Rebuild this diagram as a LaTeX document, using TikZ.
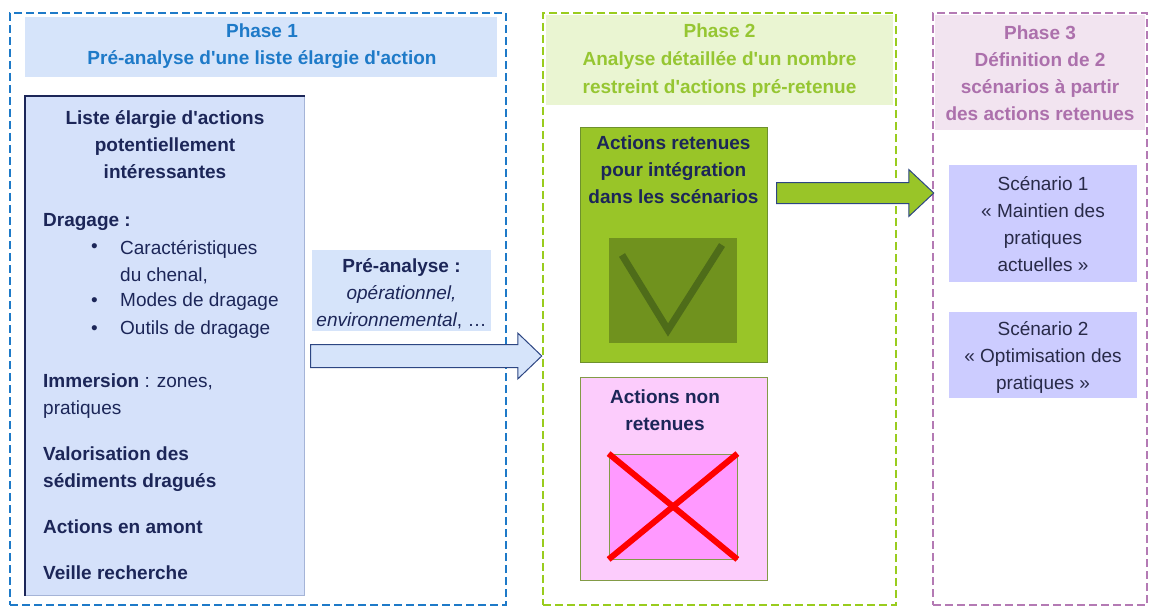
\documentclass[tikz,border=0pt]{standalone}
\usepackage{fontspec}
\setmainfont{Liberation Sans}[Ligatures=TeXOff]
\usetikzlibrary{calc}
\definecolor{navy}{RGB}{28,38,88}
\definecolor{p1blue}{RGB}{30,122,200}
\definecolor{h1fill}{RGB}{214,228,250}
\definecolor{listfill}{RGB}{213,225,250}
\definecolor{listedge}{RGB}{165,180,215}
\definecolor{p2green}{RGB}{153,204,30}
\definecolor{p2text}{RGB}{150,198,50}
\definecolor{h2fill}{RGB}{234,245,210}
\definecolor{gbox}{RGB}{153,197,40}
\definecolor{gedge}{RGB}{110,145,45}
\definecolor{gdark}{RGB}{112,146,30}
\definecolor{vmark}{RGB}{78,108,25}
\definecolor{pbox}{RGB}{252,204,252}
\definecolor{pinner}{RGB}{255,153,255}
\definecolor{pedge}{RGB}{130,155,70}
\definecolor{p3mauve}{RGB}{180,122,180}
\definecolor{p3text}{RGB}{172,112,172}
\definecolor{h3fill}{RGB}{242,228,240}
\definecolor{scfill}{RGB}{204,204,255}
\definecolor{sctext}{RGB}{40,42,72}
\definecolor{arrowedge}{RGB}{45,70,130}
\begin{document}
\begin{tikzpicture}[x=1pt,y=-1pt,
  phase/.style={draw, line width=2.5pt, dash pattern=on 8pt off 4pt, inner sep=0pt},
  fillbox/.style={inner sep=0pt},
  txt/.style={inner sep=0pt, align=center, font=\fontsize{19}{27}\selectfont},
  btxt/.style={inner sep=0pt, align=center, font=\fontsize{19}{27}\selectfont\bfseries},
  ltxt/.style={inner sep=0pt, align=left, anchor=west, font=\fontsize{19}{27}\selectfont, text=navy},
  blt/.style={inner sep=0pt, anchor=west, font=\fontsize{19}{27}\selectfont, text=navy},
  barrow/.style={fill=h1fill, draw=arrowedge, line width=1pt, line join=miter},
  garrow/.style={fill=gbox, draw=arrowedge, line width=1pt, line join=miter}
]
\useasboundingbox (0,0) rectangle (1150,607);

% ---------- Phase 1 ----------
\node[phase, draw=p1blue, minimum width=496, minimum height=592] (ph1) at (258,309) {};
\node[fillbox, fill=h1fill, minimum width=472, minimum height=60] (h1) at (261,47) {};
\node[btxt, text=p1blue] (h1t) at (262,46.5) {Phase 1\\Pré-analyse d'une liste élargie d'action};

\node[fillbox, fill=listfill, draw=listedge, line width=1pt, minimum width=279, minimum height=498] (list) at (164.5,346) {};
\draw[navy, line width=2pt] (list.south west) -- (list.north west) -- (list.north east);

\node[btxt, text=navy] (ltitle) at (165,144.5) {Liste élargie d'actions\\potentiellement\\intéressantes};
\node[blt, font=\fontsize{19}{27}\selectfont\bfseries] (drag) at (43,222) {Dragage :};
\node[blt] (bu1) at (91,248) {•};
\node[ltxt] (it1) at (120,262) {Caractéristiques\\du chenal,};
\node[blt] (bu2) at (91,302) {•};
\node[blt] (it2) at (120,302) {Modes de dragage};
\node[blt] (bu3) at (91,330) {•};
\node[blt] (it3) at (120,330) {Outils de dragage};
\node[ltxt] (imm) at (43,396.5) {\textbf{Immersion} : zones,\\pratiques};
\node[ltxt, font=\fontsize{19}{27}\selectfont\bfseries] (val) at (43,469) {Valorisation des\\sédiments dragués};
\node[blt, font=\fontsize{19}{27}\selectfont\bfseries] (amont) at (43,527) {Actions en amont};
\node[blt, font=\fontsize{19}{27}\selectfont\bfseries] (veille) at (43,573) {Veille recherche};

\node[fillbox, fill=h1fill, minimum width=179, minimum height=81] (pre) at (401.5,290.5) {};
\node[txt, text=navy] (pret) at (401.5,294) {\textbf{Pré-analyse :}\\\textit{opérationnel,}\\\textit{environnemental}, …};

% ---------- Phase 2 ----------
\node[phase, draw=p2green, minimum width=353, minimum height=592] (ph2) at (719.5,309) {};
\node[fillbox, fill=h2fill, minimum width=347, minimum height=90] (h2) at (719.5,60) {};
\node[btxt, text=p2text, font=\fontsize{19}{28}\selectfont\bfseries] (h2t) at (719.5,61) {Phase 2\\Analyse détaillée d'un nombre\\restreint d'actions pré-retenue};

\node[fillbox, fill=gbox, draw=gedge, line width=1pt, minimum width=187, minimum height=235] (keep) at (673.5,244.5) {};
\node[btxt, text=navy] (keept) at (673.5,169.5) {Actions retenues\\pour intégration\\dans les scénarios};
\node[fillbox, fill=gdark, minimum width=128, minimum height=105] (keepsq) at (673,290.5) {};
\draw[vmark, line width=7pt] (622,255) -- (668,330) -- (722,245);

\node[fillbox, fill=pbox, draw=pedge, line width=1pt, minimum width=187, minimum height=203] (drop) at (673.5,478.5) {};
\node[btxt, text=navy] (dropt) at (665,410) {Actions non\\retenues};
\node[fillbox, fill=pinner, draw=pedge, line width=0.8pt, minimum width=128, minimum height=105] (dropsq) at (673,506.5) {};
\draw[red, line width=6pt] (dropsq.north west) -- (dropsq.south east);
\draw[red, line width=6pt] (dropsq.north east) -- (dropsq.south west);

% ---------- Phase 3 ----------
\node[phase, draw=p3mauve, minimum width=214, minimum height=592] (ph3) at (1040,309) {};
\node[fillbox, fill=h3fill, minimum width=210, minimum height=115] (h3) at (1040,72.5) {};
\node[btxt, text=p3text] (h3t) at (1040,73) {Phase 3\\Définition de 2\\scénarios à partir\\des actions retenues};

\node[fillbox, fill=scfill, minimum width=188, minimum height=117] (sc1) at (1043,223.5) {};
\node[txt, text=sctext] (sc1t) at (1043,224.5) {Scénario 1\\« Maintien des\\pratiques\\actuelles »};
\node[fillbox, fill=scfill, minimum width=188, minimum height=86] (sc2) at (1043,355) {};
\node[txt, text=sctext] (sc2t) at (1043,357) {Scénario 2\\« Optimisation des\\pratiques »};

% ---------- Arrows ----------
\coordinate (a1s) at ($(list.east)+(6,10)$);
\coordinate (a1e) at (ph2.west |- a1s);
\draw[barrow] ($(a1s)+(0,-11.5)$) -- ($(a1e)+(-24,-11.5)$) -- ($(a1e)+(-24,-23)$) -- (a1e)
  -- ($(a1e)+(-24,23)$) -- ($(a1e)+(-24,11.5)$) -- ($(a1s)+(0,11.5)$) -- cycle;

\coordinate (a2s) at ($(keep.east)+(9,-51.5)$);
\coordinate (a2e) at ($(ph3.west |- a2s)+(2,0)$);
\draw[garrow] ($(a2s)+(0,-10.5)$) -- ($(a2e)+(-25,-10.5)$) -- ($(a2e)+(-25,-23.5)$) -- (a2e)
  -- ($(a2e)+(-25,23.5)$) -- ($(a2e)+(-25,10.5)$) -- ($(a2s)+(0,10.5)$) -- cycle;
\end{tikzpicture}
\end{document}
